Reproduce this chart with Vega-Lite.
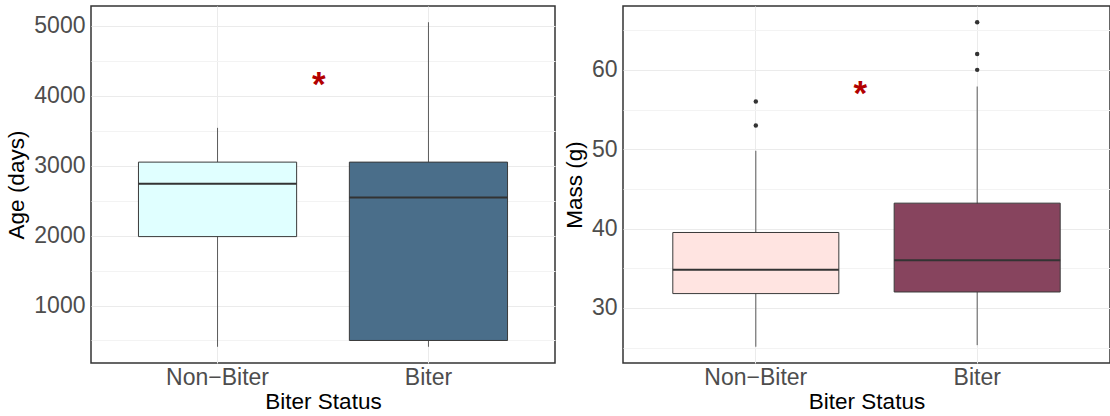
{
  "$schema": "https://vega.github.io/schema/vega-lite/v6.json",
  "padding": {"left": 5, "top": 5, "right": 0, "bottom": 4},
  "background": "white",
  "spacing": 6,
  "resolve": {"scale": {"color": "independent"}},
  "datasets": {
    "age": [
      {"status": "Non−Biter", "min": 410, "q1": 1985, "median": 2740, "q3": 3050, "max": 3540},
      {"status": "Biter", "min": 410, "q1": 500, "median": 2545, "q3": 3050, "max": 5050}
    ],
    "mass": [
      {"status": "Non−Biter", "min": 25.1, "q1": 31.8, "median": 34.8, "q3": 39.5, "max": 49.8},
      {"status": "Biter", "min": 25.3, "q1": 32.0, "median": 36.0, "q3": 43.2, "max": 57.9}
    ],
    "mass_out": [
      {"status": "Non−Biter", "value": 56},
      {"status": "Non−Biter", "value": 53},
      {"status": "Biter", "value": 66},
      {"status": "Biter", "value": 62},
      {"status": "Biter", "value": 60}
    ],
    "age_star": [{"label": "*", "y": 4150}],
    "mass_star": [{"label": "*", "y": 57.0}]
  },
  "config": {
    "font": "Liberation Sans",
    "view": {"stroke": "#333333", "strokeWidth": 1.5},
    "axis": {
      "labelFont": "Liberation Sans",
      "labelFontSize": 23,
      "labelColor": "#4d4d4d",
      "titleFont": "Liberation Sans",
      "titleFontSize": 22.5,
      "titleFontWeight": "normal",
      "titleColor": "#000000",
      "ticks": false,
      "domain": false,
      "gridColor": "#ebebeb",
      "gridWidth": 1
    },
    "axisX": {"labelPadding": 3, "titlePadding": 1, "bandPosition": 0.5, "labelAngle": 0},
    "axisY": {"labelPadding": 6, "titlePadding": 5, "format": "d"}
  },
  "hconcat": [
    {
      "width": 464,
      "height": 357,
      "data": {"name": "age"},
      "resolve": {"axis": {"y": "independent"}},
      "encoding": {
        "x": {
          "field": "status",
          "type": "nominal",
          "sort": ["Non−Biter", "Biter"],
          "scale": {"domain": ["Non−Biter", "Biter"], "paddingInner": 0.25, "paddingOuter": 0.225},
          "axis": {"title": "Biter Status", "grid": true}
        }
      },
      "layer": [
        {
          "mark": {"type": "rule", "color": "#5a5a5a", "strokeWidth": 1},
          "encoding": {
            "y": {"field": "min", "type": "quantitative", "scale": {"domain": [178, 5282], "nice": false, "zero": false}, "axis": {"title": "Age (days)", "values": [1000, 2000, 3000, 4000, 5000], "grid": true}},
            "y2": {"field": "max"}
          }
        },
        {
          "mark": {"type": "bar", "stroke": "#3a3a3a", "strokeWidth": 1},
          "encoding": {
            "y": {"field": "q1", "type": "quantitative", "axis": {"orient": "right", "values": [500, 1500, 2500, 3500, 4500], "labels": false, "title": null, "grid": true, "gridColor": "#f3f3f3"}},
            "y2": {"field": "q3"},
            "color": {"field": "status", "type": "nominal", "scale": {"domain": ["Non−Biter", "Biter"], "range": ["#e0ffff", "#4a6e8a"]}, "legend": null}
          }
        },
        {
          "mark": {"type": "bar", "fill": null, "stroke": "#333333", "strokeWidth": 2},
          "encoding": {
            "y": {"field": "median", "type": "quantitative", "axis": null},
            "y2": {"field": "median"}
          }
        },
        {
          "data": {"name": "age_star"},
          "mark": {"type": "text", "fontSize": 35, "fontWeight": "bold", "color": "#b30000", "baseline": "middle", "align": "center"},
          "encoding": {
            "x": {"datum": "Non−Biter", "bandPosition": 1.14},
            "y": {"field": "y", "type": "quantitative", "axis": null},
            "text": {"field": "label"}
          }
        }
      ]
    },
    {
      "width": 487,
      "height": 357,
      "data": {"name": "mass"},
      "resolve": {"axis": {"y": "independent"}},
      "encoding": {
        "x": {
          "field": "status",
          "type": "nominal",
          "sort": ["Non−Biter", "Biter"],
          "scale": {"domain": ["Non−Biter", "Biter"], "paddingInner": 0.25, "paddingOuter": 0.225},
          "axis": {"title": "Biter Status", "grid": true}
        }
      },
      "layer": [
        {
          "mark": {"type": "rule", "color": "#5a5a5a", "strokeWidth": 1},
          "encoding": {
            "y": {"field": "min", "type": "quantitative", "scale": {"domain": [23.05, 68.05], "nice": false, "zero": false}, "axis": {"title": "Mass (g)", "values": [30, 40, 50, 60], "grid": true}},
            "y2": {"field": "max"}
          }
        },
        {
          "mark": {"type": "bar", "stroke": "#3a3a3a", "strokeWidth": 1},
          "encoding": {
            "y": {"field": "q1", "type": "quantitative", "axis": {"orient": "right", "values": [25, 35, 45, 55, 65], "labels": false, "title": null, "grid": true, "gridColor": "#f3f3f3"}},
            "y2": {"field": "q3"},
            "color": {"field": "status", "type": "nominal", "scale": {"domain": ["Non−Biter", "Biter"], "range": ["#ffe4e1", "#87445e"]}, "legend": null}
          }
        },
        {
          "mark": {"type": "bar", "fill": null, "stroke": "#333333", "strokeWidth": 2},
          "encoding": {
            "y": {"field": "median", "type": "quantitative", "axis": null},
            "y2": {"field": "median"}
          }
        },
        {
          "data": {"name": "mass_out"},
          "mark": {"type": "circle", "size": 20, "color": "#333333", "opacity": 1},
          "encoding": {
            "y": {"field": "value", "type": "quantitative", "axis": null}
          }
        },
        {
          "data": {"name": "mass_star"},
          "mark": {"type": "text", "fontSize": 35, "fontWeight": "bold", "color": "#b30000", "baseline": "middle", "align": "center"},
          "encoding": {
            "x": {"datum": "Non−Biter", "bandPosition": 1.13},
            "y": {"field": "y", "type": "quantitative", "axis": null},
            "text": {"field": "label"}
          }
        }
      ]
    }
  ]
}
